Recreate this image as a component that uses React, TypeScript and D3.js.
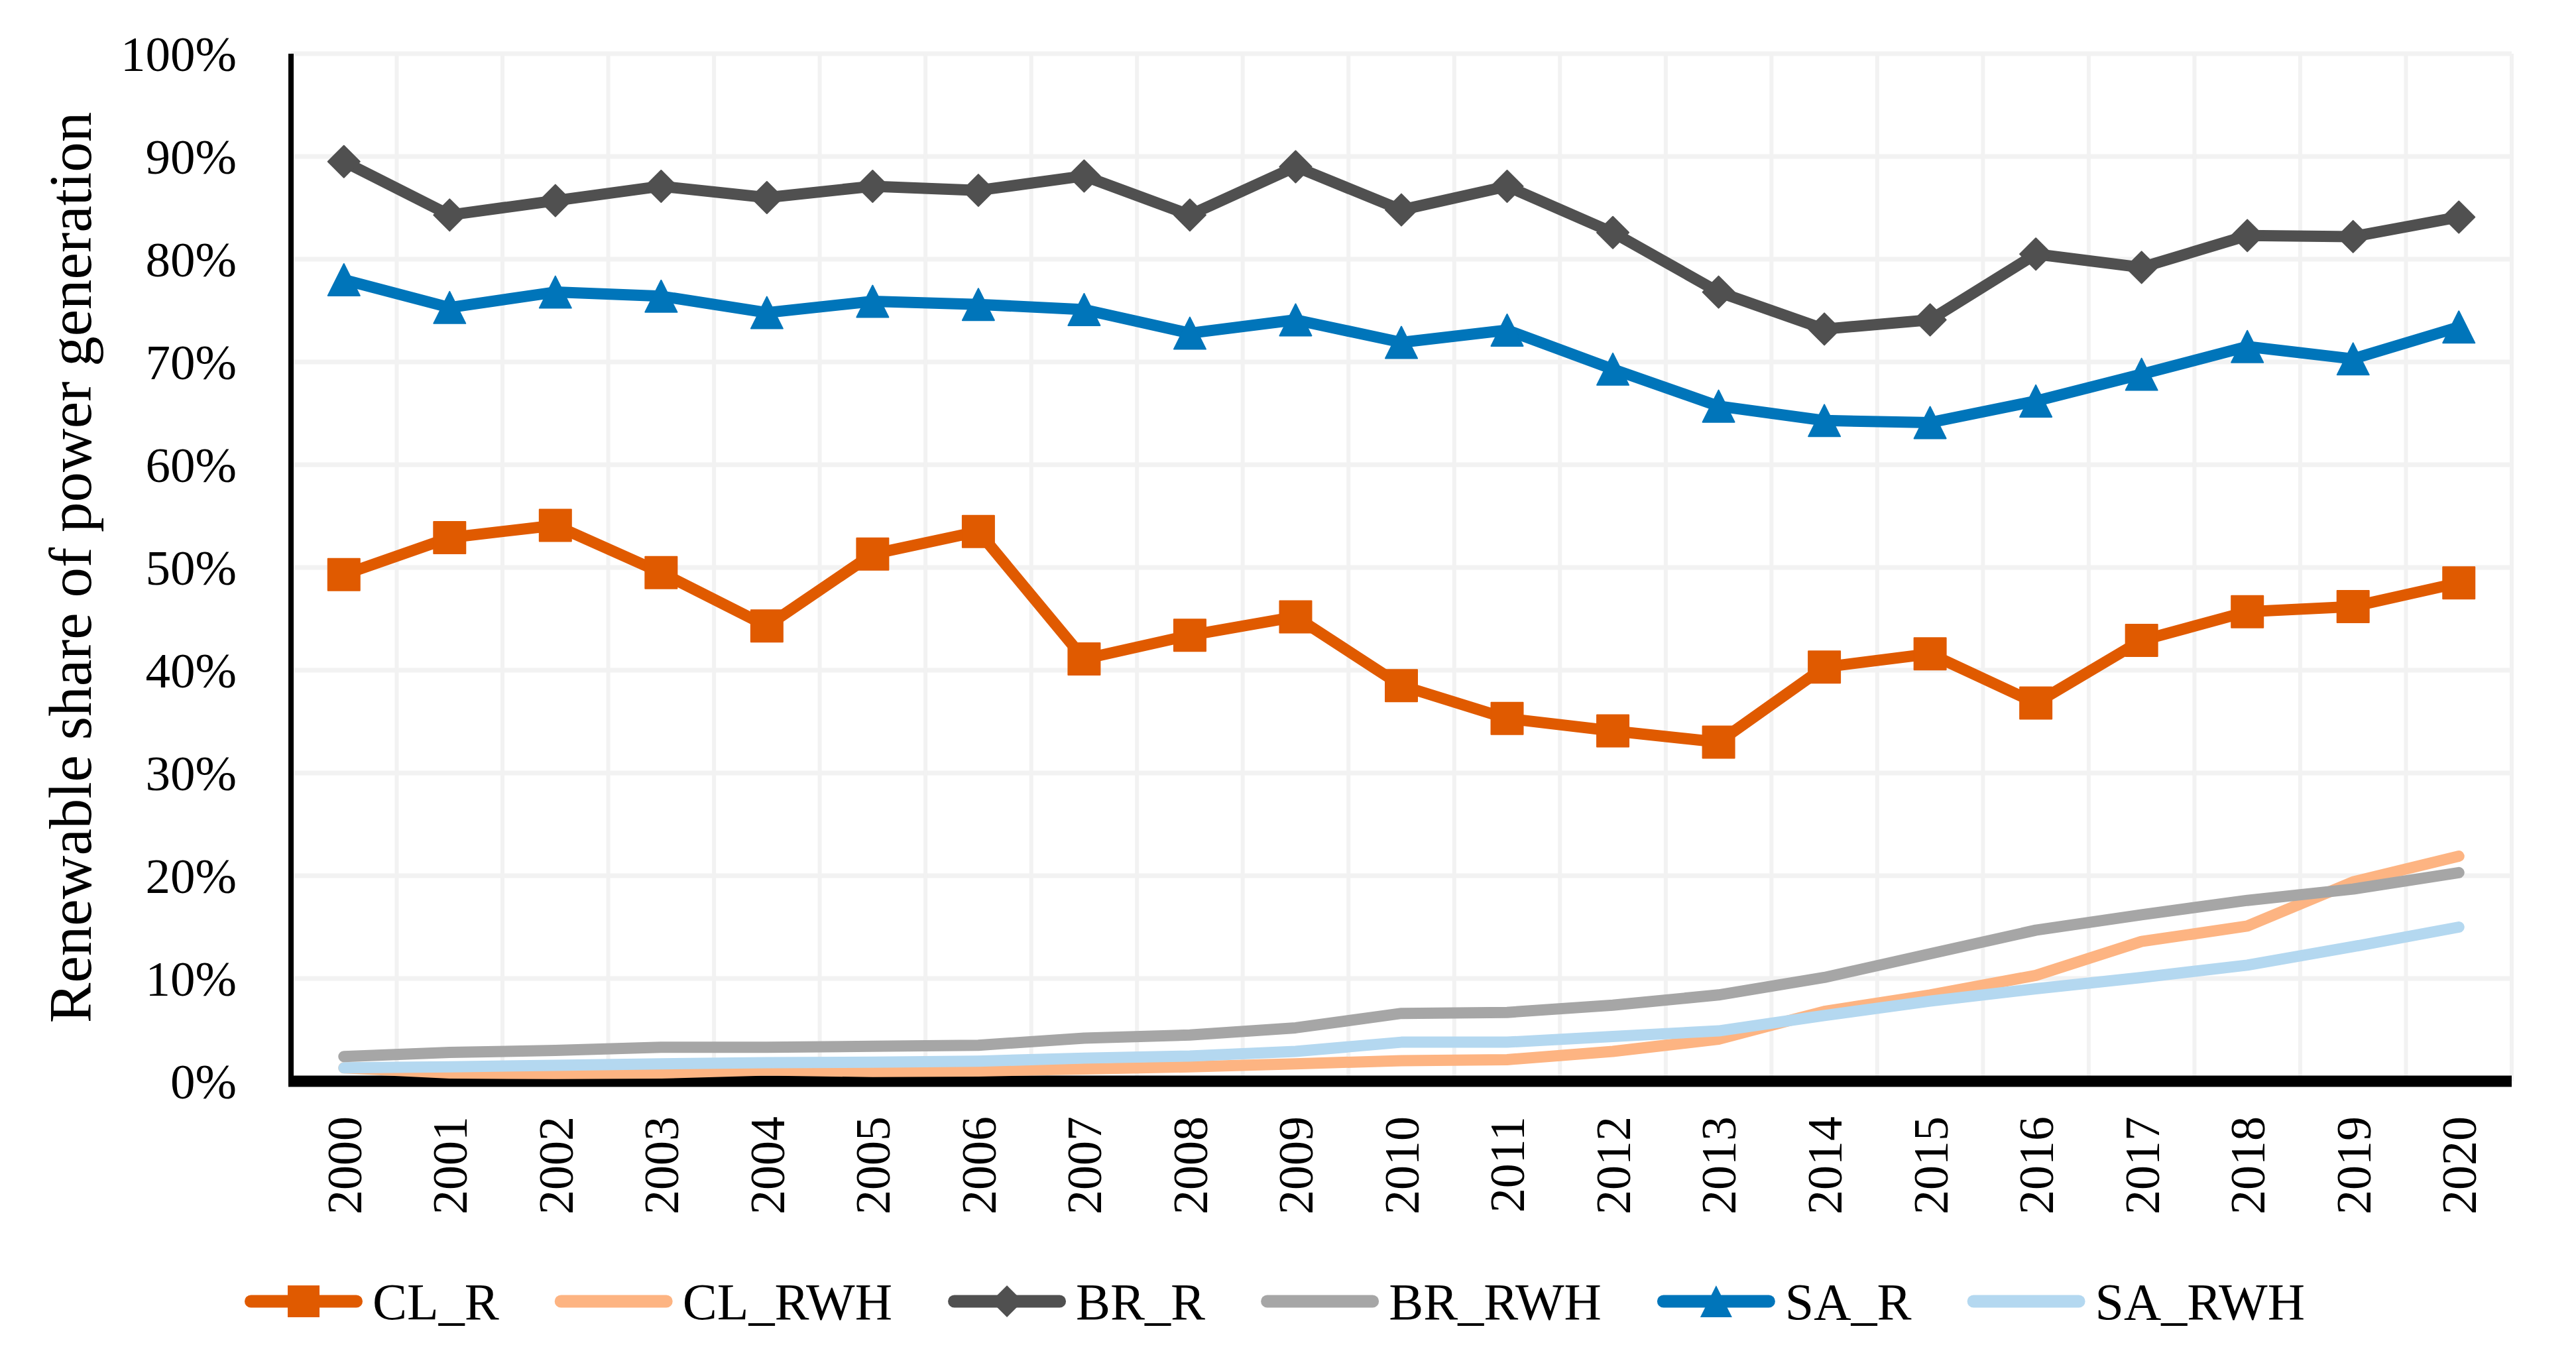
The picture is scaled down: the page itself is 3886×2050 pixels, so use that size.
import { useEffect, useRef } from "react";
import * as d3 from "d3";

const YEARS = [
  "2000", "2001", "2002", "2003", "2004", "2005", "2006", "2007", "2008", "2009", "2010",
  "2011", "2012", "2013", "2014", "2015", "2016", "2017", "2018", "2019", "2020",
];

const CL_R = [49.3, 52.9, 54.1, 49.5, 44.3, 51.3, 53.5, 41.1, 43.4, 45.2, 38.5, 35.3, 34.1, 33.0, 40.3, 41.6, 36.8, 42.9, 45.7, 46.2, 48.5];
const CL_RWH = [1.3, 0.8, 0.75, 0.8, 1.1, 0.95, 1.0, 1.2, 1.4, 1.7, 2.0, 2.1, 2.9, 4.1, 6.8, 8.4, 10.3, 13.6, 15.1, 19.4, 21.9];
const BR_R = [89.5, 84.3, 85.7, 87.1, 86.0, 87.1, 86.7, 88.1, 84.3, 89.0, 84.8, 87.1, 82.6, 76.8, 73.2, 74.1, 80.5, 79.2, 82.3, 82.2, 84.1];
const BR_RWH = [2.4, 2.8, 3.0, 3.3, 3.3, 3.4, 3.5, 4.2, 4.5, 5.2, 6.6, 6.7, 7.4, 8.4, 10.1, 12.4, 14.7, 16.2, 17.6, 18.7, 20.3];
const SA_R = [78.0, 75.3, 76.8, 76.4, 74.8, 75.9, 75.6, 75.1, 72.8, 74.1, 71.9, 73.1, 69.3, 65.7, 64.3, 64.1, 66.2, 68.8, 71.5, 70.3, 73.4];
const SA_RWH = [1.3, 1.4, 1.55, 1.7, 1.8, 1.85, 1.95, 2.25, 2.45, 2.9, 3.8, 3.8, 4.35, 4.9, 6.4, 7.8, 9.0, 10.1, 11.3, 13.1, 15.0];

const Y_TICKS = [0, 10, 20, 30, 40, 50, 60, 70, 80, 90, 100];

type Marker = "square" | "diamond" | "triangle" | null;

const SERIES: { name: string; values: number[]; color: string; marker: Marker }[] = [
  { name: "CL_R", values: CL_R, color: "#E05A00", marker: "square" },
  { name: "CL_RWH", values: CL_RWH, color: "#FDB482", marker: null },
  { name: "BR_R", values: BR_R, color: "#505050", marker: "diamond" },
  { name: "BR_RWH", values: BR_RWH, color: "#A6A6A6", marker: null },
  { name: "SA_R", values: SA_R, color: "#0075BA", marker: "triangle" },
  { name: "SA_RWH", values: SA_RWH, color: "#B4D8F0", marker: null },
];

const W = 3886;
const H = 2050;
const FONT = "'Liberation Serif', 'DejaVu Serif', serif";

function markerPath(m: Marker) {
  const s = 24;
  if (m === "square") return `M${-s},${-s}H${s}V${s}H${-s}Z`;
  if (m === "diamond") return `M0,${-s}L${s},0L0,${s}L${-s},0Z`;
  if (m === "triangle") return `M0,${-s}L${s},${s}L${-s},${s}Z`;
  return "";
}

export default function App() {
  const svgRef = useRef<SVGSVGElement>(null);

  useEffect(() => {
    if (!svgRef.current) return;
    const svg = d3.select(svgRef.current);
    svg.selectAll("*").remove();

    const left = 439;
    const right = 3789;
    const top = 81;
    const bottom = 1631;

    const x = d3.scaleBand<string>().domain(YEARS).range([left, right]).padding(0);
    const y = d3.scaleLinear().domain([0, 100]).range([bottom, top]);
    const cx = (yr: string) => (x(yr) ?? 0) + x.bandwidth() / 2;

    svg.append("rect").attr("width", W).attr("height", H).attr("fill", "#fff");

    // gridlines
    const grid = svg.append("g").attr("stroke", "#F2F2F2");
    grid
      .selectAll("line.h")
      .data(Y_TICKS.slice(1))
      .join("line")
      .attr("x1", left)
      .attr("x2", right)
      .attr("y1", (d) => y(d))
      .attr("y2", (d) => y(d))
      .attr("stroke-width", 7);
    grid
      .selectAll("line.v")
      .data(YEARS)
      .join("line")
      .attr("x1", (d) => (x(d) ?? 0) + x.bandwidth())
      .attr("x2", (d) => (x(d) ?? 0) + x.bandwidth())
      .attr("y1", top)
      .attr("y2", bottom)
      .attr("stroke-width", 6);

    // axes
    svg
      .append("line")
      .attr("x1", left)
      .attr("x2", left)
      .attr("y1", top)
      .attr("y2", bottom + 8)
      .attr("stroke", "#000")
      .attr("stroke-width", 8);
    svg
      .append("line")
      .attr("x1", left - 4)
      .attr("x2", right)
      .attr("y1", bottom)
      .attr("y2", bottom)
      .attr("stroke", "#000")
      .attr("stroke-width", 17);

    // y tick labels
    svg
      .append("g")
      .selectAll("text")
      .data(Y_TICKS)
      .join("text")
      .attr("x", 357)
      .attr("y", (d) => y(d))
      .attr("dy", "0.35em")
      .attr("text-anchor", "end")
      .attr("font-family", FONT)
      .attr("font-size", 75)
      .attr("fill", "#000")
      .text((d) => `${d}%`);

    // x tick labels
    svg
      .append("g")
      .selectAll("text")
      .data(YEARS)
      .join("text")
      .attr("transform", (d) => `translate(${cx(d)},1684) rotate(-90)`)
      .attr("dy", "0.35em")
      .attr("text-anchor", "end")
      .attr("font-family", FONT)
      .attr("font-size", 74)
      .attr("fill", "#000")
      .text((d) => d);

    // y axis title
    svg
      .append("text")
      .attr("transform", `translate(137,${(top + bottom) / 2}) rotate(-90)`)
      .attr("text-anchor", "middle")
      .attr("font-family", FONT)
      .attr("font-size", 91)
      .attr("fill", "#000")
      .text("Renewable share of power generation");

    // series
    const line = d3
      .line<number>()
      .x((_, i) => cx(YEARS[i]))
      .y((d) => y(d));

    SERIES.forEach((s) => {
      const g = svg.append("g");
      g.append("path")
        .attr("d", line(s.values))
        .attr("fill", "none")
        .attr("stroke", s.color)
        .attr("stroke-width", 17)
        .attr("stroke-linejoin", "round")
        .attr("stroke-linecap", "round");
      if (s.marker) {
        g.selectAll("path.m")
          .data(s.values)
          .join("path")
          .attr("transform", (d, i) => `translate(${cx(YEARS[i])},${y(d)})`)
          .attr("d", markerPath(s.marker))
          .attr("fill", s.color)
          .attr("stroke", s.color)
          .attr("stroke-width", 2)
          .attr("stroke-linejoin", "round");
      }
    });

    // legend: visible line 178px incl. round caps, then text
    const legend = svg.append("g");
    const sw = 19;
    const visLen = 178;
    const textGap = 15;
    const itemGap = 84;
    const ly = 1963;
    let cursor = 0;
    const items = SERIES.map((s) => {
      const g = legend.append("g");
      g.append("line")
        .attr("x1", sw / 2)
        .attr("x2", visLen - sw / 2)
        .attr("stroke", s.color)
        .attr("stroke-width", sw)
        .attr("stroke-linecap", "round");
      if (s.marker) {
        g.append("path")
          .attr("transform", `translate(${visLen / 2},0)`)
          .attr("d", markerPath(s.marker))
          .attr("fill", s.color);
      }
      const t = g
        .append("text")
        .attr("x", visLen + textGap)
        .attr("dy", "0.35em")
        .attr("font-family", FONT)
        .attr("font-size", 78)
        .attr("fill", "#000")
        .text(s.name);
      const tw = (t.node() as SVGTextElement).getComputedTextLength();
      const start = cursor;
      cursor += visLen + textGap + tw + itemGap;
      return { g, start };
    });
    const total = cursor - itemGap;
    const offset = 1923 - total / 2;
    items.forEach(({ g, start }) => g.attr("transform", `translate(${offset + start},${ly})`));
  }, []);

  return (
    <svg
      ref={svgRef}
      width={W}
      height={H}
      style={{ position: "absolute", left: 0, top: 0, display: "block" }}
    />
  );
}
